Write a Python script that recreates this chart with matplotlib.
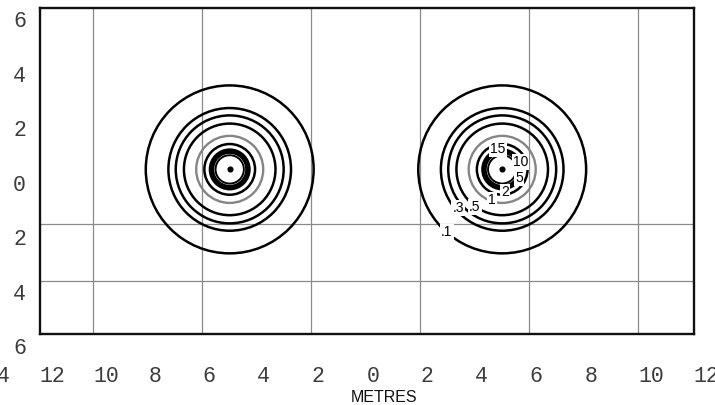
import matplotlib
matplotlib.use("Agg")
import matplotlib.pyplot as plt
import matplotlib.transforms as mtransforms
from matplotlib.patches import Circle

# ---- data -------------------------------------------------------------
source_x = [-5.25, 4.75]          # metres
source_y = [0.5, 0.5]
levels = [0.1, 0.2, 0.3, 0.5, 1, 2, 5, 10, 15]
radii = [3.08, 2.25, 1.98, 1.68, 1.23, 0.93, 0.71, 0.63, 0.52]   # metres
level_labels = [".1", ".3", ".5", "1", "2", "5", "10", "15"]
label_x = [2.72, 3.14, 3.75, 4.36, 4.86, 5.36, 5.42, 4.60]
label_y = [-1.79, -0.91, -0.87, -0.62, -0.33, 0.19, 0.78, 1.25]
x_tick_values = [-14, -12, -10, -8, -6, -4, -2, 0, 2, 4, 6, 8, 10, 12]
y_tick_values = [6, 4, 2, 0, -2, -4, -6]
grid_x = [-10.25, -6.25, -2.25, 1.75, 5.75, 9.75]
grid_y = [-1.5, -3.6]
x_limits = [-12.23, 11.77]
y_limits = [-5.52, 6.42]
x_title = "METRES"

# ---- figure -----------------------------------------------------------
W, H = 715, 405
fig = plt.figure(figsize=(W / 100, H / 100), dpi=100)
ax = fig.add_axes([39.5 / W, (H - 333.5) / H, 654 / W, 325.5 / H])
ax.set_xlim(*x_limits)
ax.set_ylim(*y_limits)
ax.set_xticks([])
ax.set_yticks([])
for s in ax.spines.values():
    s.set_linewidth(1.7)
    s.set_color("#111111")
    s.set_zorder(10)

for gx in grid_x:
    ax.axvline(gx, color="#8a8a8a", lw=0.9, zorder=1)
for gy in grid_y:
    ax.axhline(gy, color="#8a8a8a", lw=0.9, zorder=1)


def style(level):
    if level == 1:
        return "#858585", 1.7
    if level in (5, 10):
        return "#000000", 2.4
    if level == 15:
        return "#000000", 1.4
    return "#000000", 1.8


for cx, cy in zip(source_x, source_y):
    for lev, r in zip(levels, radii):
        c, lw = style(lev)
        ax.add_patch(Circle((cx, cy), r, fill=False, ec=c, lw=lw, zorder=3))
    ax.plot([cx], [cy], "o", color="black", ms=3.4, zorder=4)

for t, lx, ly in zip(level_labels, label_x, label_y):
    ax.text(lx, ly, t, ha="center", va="center", fontsize=10,
            family="Liberation Sans", color="black", zorder=6,
            bbox=dict(boxstyle="square,pad=0.08", fc="white", ec="none"))

# ---- tick labels (monospace, absolute values) -------------------------
fs = 15.5
mono = "Liberation Mono"
tcol = "#3c3c3c"
tx = mtransforms.blended_transform_factory(ax.transData, fig.transFigure)
for v in x_tick_values:
    s = str(abs(v))
    off = mtransforms.offset_copy(tx, fig=fig, x=-0.3 * fs, y=0, units="points")
    ax.text(v, (H - 381.7) / H, s, transform=off, ha="left", va="baseline",
            fontsize=fs, family=mono, color=tcol, clip_on=False)

ty = mtransforms.blended_transform_factory(fig.transFigure, ax.transData)
offy = mtransforms.offset_copy(ty, fig=fig, x=0, y=-0.36 * fs, units="points")
for v in y_tick_values:
    ax.text(19.5 / W, v, str(abs(v)), transform=offy, ha="center", va="baseline",
            fontsize=fs, family=mono, color=tcol, clip_on=False)

fig.text(384 / W, 2.5 / H, x_title, ha="center", va="baseline", fontsize=11.5,
         family="Liberation Sans", color="#111111")

fig.savefig("out.png", dpi=100)
